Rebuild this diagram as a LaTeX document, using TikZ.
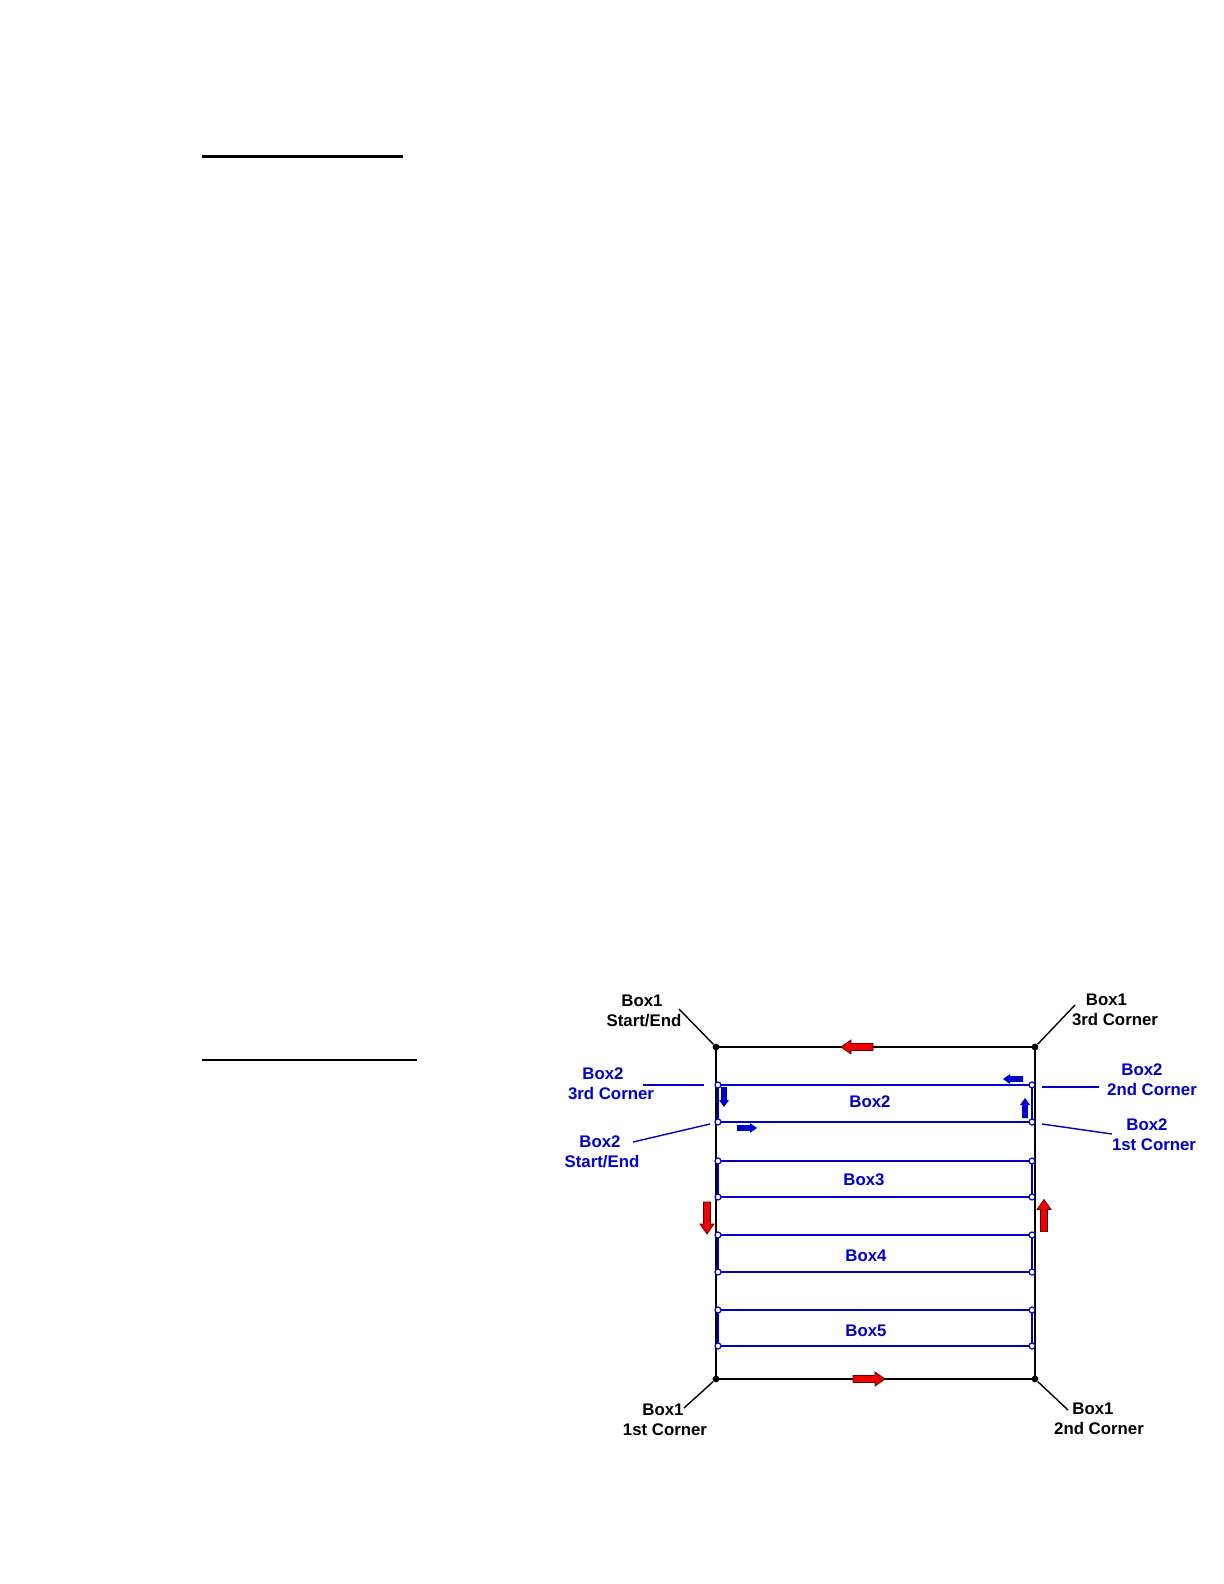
\documentclass[tikz,border=0pt]{standalone}
\usepackage{fontspec}
\setmainfont{Liberation Sans}
\usetikzlibrary{positioning,calc}
\definecolor{bblu}{HTML}{0000CC}
\definecolor{rred}{HTML}{EE0000}
\newcommand{\pad}[1]{\hspace*{#1pt}}
\tikzset{
  frame/.style={line width=1pt, black},
  lane/.style={line width=1.1pt, bblu},
  lead/.style={line width=0.7pt},
  lbl/.style={font=\bfseries\fontsize{8.4}{10}\selectfont, align=center, inner sep=0pt},
  corner/.style={circle, fill=black, inner sep=0pt, minimum size=3.4pt},
  knot/.style={circle, draw=bblu, fill=white, line width=0.6pt, inner sep=0pt, minimum size=3pt},
  redarr/.pic={\filldraw[fill=rred, draw=black!60!red, line width=0.4pt]
    (-16,-3.5) -- (6,-3.5) -- (6,-7) -- (16,0) -- (6,7) -- (6,3.5) -- (-16,3.5) -- cycle;},
  bluarr/.pic={\fill[bblu]
    (-10,-2.8) -- (3,-2.8) -- (3,-5) -- (10,0) -- (3,5) -- (3,2.8) -- (-10,2.8) -- cycle;},
}

\begin{document}
\begin{tikzpicture}[x=0.5pt, y=-0.5pt]
 \useasboundingbox (0,0) rectangle (1224,1584);
 % rules on the left
 \draw[line width=1.5pt] (202,156) -- (403,156);
 \draw[line width=1pt] (202,1060) -- (417,1060);
 % Box1
 \coordinate (c0) at (716,1047);
 \coordinate (c1) at (716,1379);
 \coordinate (c2) at (1035,1379);
 \coordinate (c3) at (1035,1047);
 \draw[frame] (c0) -- (c1) -- (c2) -- (c3) -- cycle;
 % Box2 .. Box5
 \foreach \n/\t/\b/\lx/\ly in {2/1085/1122/870/1101.5, 3/1161/1197/864/1179.5, 4/1235/1272/866/1255.5, 5/1310/1346/866/1330.5}{
  \draw[lane] (718,\t) rectangle (1032,\b);
  \node[knot] (k\n a) at (718,\b) {};
  \node[knot] (k\n b) at (1032,\b) {};
  \node[knot] (k\n c) at (1032,\t) {};
  \node[knot] (k\n d) at (718,\t) {};
  \node[lbl, bblu] (b\n) at (\lx,\ly) {Box\n};
 }
 \foreach \c in {0,1,2,3}{ \node[corner] (d\c) at (c\c) {}; }
 % direction arrows
 \pic[rotate=180] at (857,1047) {redarr};
 \pic at (869,1379) {redarr};
 \pic[rotate=-90] at (707,1218) {redarr};
 \pic[rotate=90] at (1044,1215.5) {redarr};
 \pic[rotate=-90] at (724,1097) {bluarr};
 \pic at (747,1128) {bluarr};
 \pic[rotate=180] at (1013,1079) {bluarr};
 \pic[rotate=90] at (1025,1108) {bluarr};
 % Box1 labels
 \node[lbl] (l0) at (644,1011) {Box1\pad{2}\\Start/End};
 \node[lbl] (l3) at (1115,1010) {Box1\pad{8.5}\\3rd Corner};
 \node[lbl] (l1) at (665,1420) {Box1\pad{2}\\1st Corner};
 \node[lbl] (l2) at (1099,1419) {Box1\pad{6}\\2nd Corner};
 \coordinate (e0) at (679,1009);
 \coordinate (e3) at (1075,1005);
 \coordinate (e1) at (684,1408);
 \coordinate (e2) at (1068,1410);
 \draw[lead] (e0) -- (d0);
 \draw[lead] (e3) -- (d3);
 \draw[lead] (e1) -- (d1);
 \draw[lead] (e2) -- (d2);
 % Box2 labels
 \node[lbl, bblu] (m0) at (602,1152) {Box2\pad{2}\\Start/End};
 \node[lbl, bblu] (m3) at (611,1084) {Box2\pad{8}\\3rd Corner};
 \node[lbl, bblu] (m2) at (1152,1080) {Box2\pad{10}\\2nd Corner};
 \node[lbl, bblu] (m1) at (1154,1135) {Box2\pad{7}\\1st Corner};
 \coordinate (f0a) at (633,1142);
 \coordinate (f0b) at (710,1124);
 \coordinate (f3a) at (643,1085);
 \coordinate (f3b) at (704,1085);
 \coordinate (f2a) at (1042,1087);
 \coordinate (f2b) at (1099,1087);
 \coordinate (f1a) at (1042,1124);
 \coordinate (f1b) at (1112,1134);
 \draw[lead, bblu] (f0a) -- (f0b);
 \draw[lead, bblu] (f3a) -- (f3b);
 \draw[lead, bblu] (f2a) -- (f2b);
 \draw[lead, bblu] (f1a) -- (f1b);
\end{tikzpicture}
\end{document}
